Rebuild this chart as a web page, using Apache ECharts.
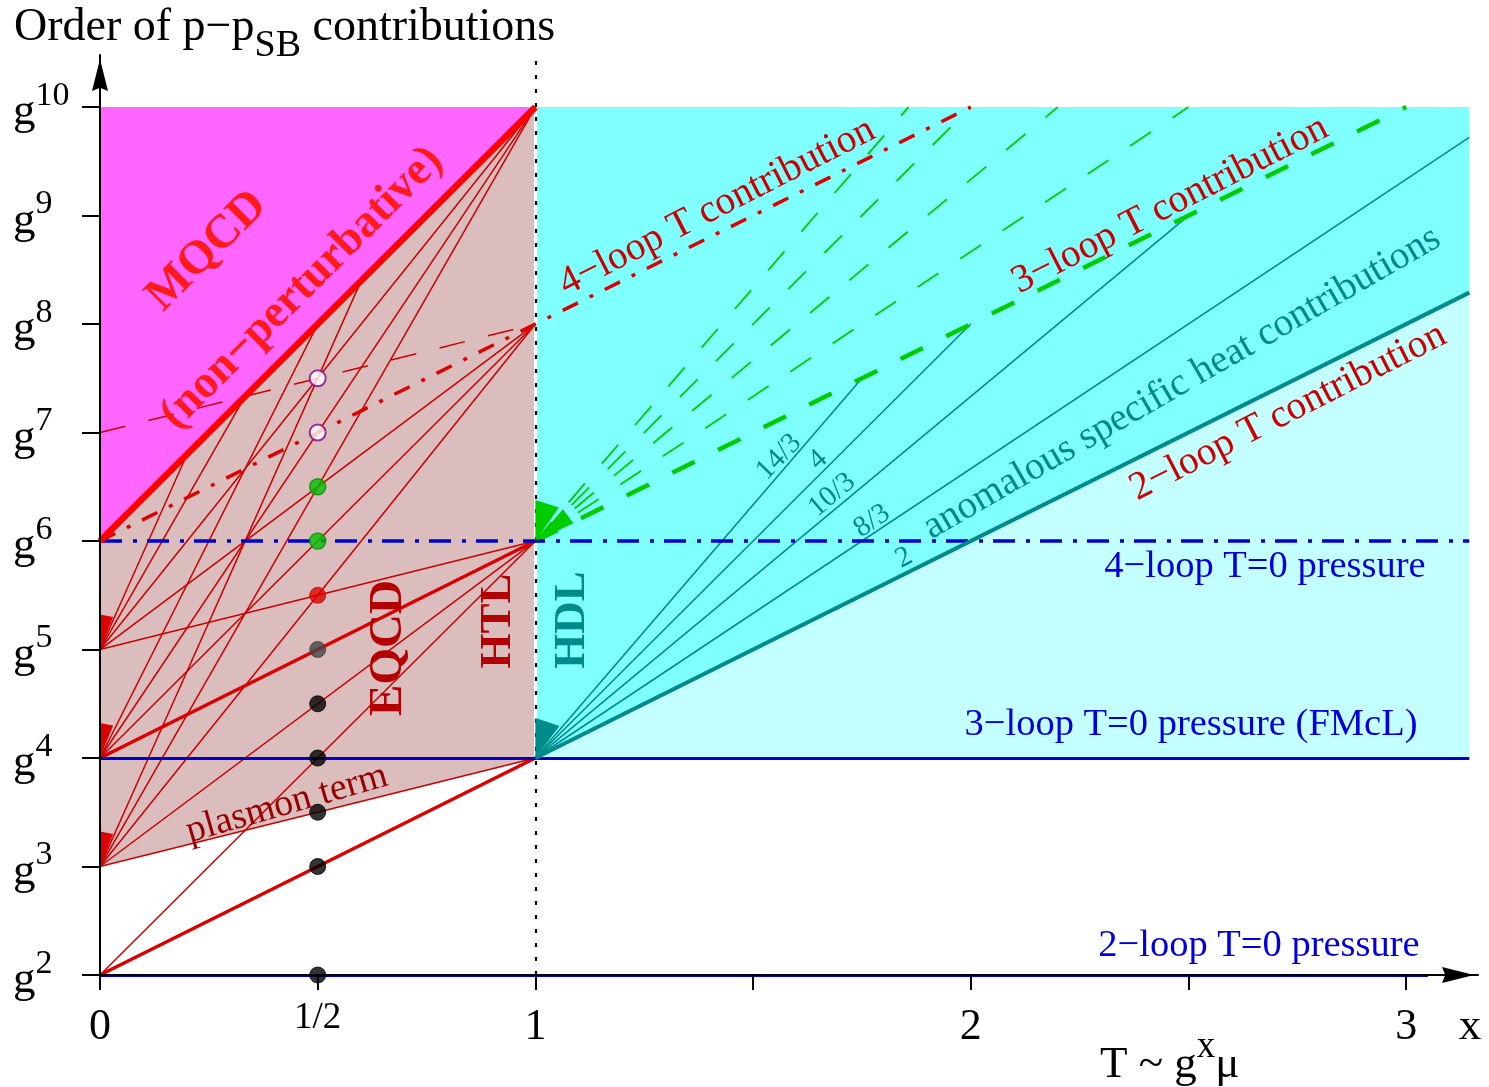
<!DOCTYPE html>
<html><head><meta charset="utf-8">
<script src="https://cdn.jsdelivr.net/npm/echarts@6/dist/echarts.min.js"></script>
<style>html,body{margin:0;padding:0;background:#fff}#c{width:1489px;height:1087px}</style>
</head><body><div id="c"></div>
<script>
// ---------------- data (x = exponent in T ~ g^x mu, y = power of g) ----------------
const xMax = 3.165, yMin = 2, yMax = 10.48;
const xTickValues = [0, 0.5, 1, 1.5, 2, 2.5, 3];
const xLabelValues = [0, 0.5, 1, 2, 3];
const xLabelText = {0: '0', 0.5: '1/2', 1: '1', 2: '2', 3: '3'};
const yTickValues = [2, 3, 4, 5, 6, 7, 8, 9, 10];

const regionMQCD = [[0, 6], [0, 10], [1, 10]];
const regionEQCD = [[0, 3], [1, 4], [1, 10], [0, 6]];
const regionHDL = [[1, 4], [3.145, 8.29], [3.145, 10], [1, 10]];
const regionHDLlow = [[1, 4], [3.145, 4], [3.145, 8.29]];

const nonPertBoundary = [[[0, 6], [1, 10]]];
const thickRed = [[[0, 2], [1, 4]], [[0, 4], [1, 6]]];
const thinRed = [
  [[0, 2], [1, 6]],
  [[0, 3], [1, 4]], [[0, 3], [1, 6]], [[0, 3], [1, 8]], [[0, 3], [1, 10]], [[0, 3], [0.6, 8.4]],
  [[0, 4], [1, 8]], [[0, 4], [1, 10]], [[0, 4], [0.5, 8]],
  [[0, 5], [1, 6]], [[0, 5], [1, 8]], [[0, 5], [1, 10]], [[0, 5], [1 / 3, 22 / 3]], [[0, 5], [0.2, 6.8]]
];
const redDashDot = [[[0, 6], [2, 10]]];
const redDashed = [[[0, 7], [1, 8]]];
const blueSolid = [[[0, 2], [3.05, 2]], [[0, 4], [3.145, 4]]];
const blueDashDot = [[[0, 6], [3.145, 6]]];
const tealThin = [[[1, 4], [1.75, 7.5]], [[1, 4], [2, 8]], [[1, 4], [2.5, 9]], [[1, 4], [3.145, 9.72]]];
const tealThick = [[[1, 4], [3.145, 8.29]]];
const greenThin = [[[1, 6], [1.857, 10]], [[1, 6], [2, 10]], [[1, 6], [2.2, 10]], [[1, 6], [2.5, 10]]];
const greenThick = [[[1, 6], [3, 10]]];
const divider = [[[1, 4], [1, 10]]];
const dottedVertical = [[[1, 2], [1, 10.45]]];

const dotY = [2, 3, 3.5, 4, 4.5, 5, 5.5, 6, 6.5, 7, 7.5];
const dotKind = ['k', 'k', 'k', 'k', 'k', 'g', 'r', 'G', 'G', 'w', 'w'];

const wedgeRedApex = [[0, 3], [0, 4], [0, 5]];
const wedgeTealApex = [[1, 4]];
const wedgeGreenApex = [[1, 6]];

// ---------------- styles ----------------
const FONT = '"Liberation Serif", "Times New Roman", serif';
const RED = '#ff0000', DRED = '#cc0000', BLUE = '#0000cc', TEAL = '#008b8b', GREEN = '#00cc00';
const dotStyles = {
  k: {color: '#000', borderColor: '#000', borderWidth: 1},
  g: {color: '#444', borderColor: '#444', borderWidth: 1},
  r: {color: '#dd0000', borderColor: '#cc0000', borderWidth: 1},
  G: {color: '#00c000', borderColor: '#009000', borderWidth: 1.5},
  w: {color: '#ffffff', borderColor: '#8a008a', borderWidth: 2}
};

function polySeries(points, color, z) {
  return {
    type: 'custom', coordinateSystem: 'cartesian2d', z, silent: true, animation: false,
    data: [[1, 5]],
    renderItem: (params, api) => ({
      type: 'polygon', shape: {points: points.map(p => api.coord(p))}, style: {fill: color}
    })
  };
}
function linesSeries(list, style, z) {
  return {
    type: 'lines', coordinateSystem: 'cartesian2d', z, silent: true, animation: false,
    polyline: false, clip: false,
    data: list.map(c => ({coords: c})),
    lineStyle: Object.assign({opacity: 1, curveness: 0}, style)
  };
}
// wedge fans: list of [startDeg, endDeg, radiusPx]
function wedgeSeries(apexes, color, fans, z) {
  return {
    type: 'custom', coordinateSystem: 'cartesian2d', z, silent: true, animation: false,
    data: apexes,
    renderItem: (params, api) => {
      const c = api.coord([api.value(0), api.value(1)]);
      return {
        type: 'group',
        children: fans.map(f => {
          const a1 = f[0] * Math.PI / 180, a2 = f[1] * Math.PI / 180, r = f[2];
          return {
            type: 'polygon',
            shape: {points: [c, [c[0] + r * Math.cos(a1), c[1] - r * Math.sin(a1)], [c[0] + r * Math.cos(a2), c[1] - r * Math.sin(a2)]]},
            style: {fill: color}
          };
        })
      };
    }
  };
}

function txt(text, x, y, deg, font, fill, extra) {
  return Object.assign({
    type: 'text', x, y, rotation: deg * Math.PI / 180, z: 100, silent: true,
    style: {text, font, fill, align: 'center', verticalAlign: 'middle'}
  }, extra || {});
}

const chart = echarts.init(document.getElementById('c'), null, {renderer: 'canvas'});

const option = {
  animation: false,
  backgroundColor: '#ffffff',
  grid: {left: 100, top: 55, width: 1378, height: 920, containLabel: false},
  xAxis: {
    type: 'value', min: 0, max: xMax, z: 20,
    axisLine: {show: true, onZero: false, lineStyle: {color: '#000', width: 2},
      symbol: ['none', 'path://M0,0 L10,40 L0,36 L-10,40 Z'], symbolSize: [16, 40], symbolOffset: [0, -20]},
    axisTick: {show: true, customValues: xTickValues, length: 15, lineStyle: {color: '#000', width: 2}},
    axisLabel: {
      customValues: xLabelValues, margin: 30,
      formatter: v => v === 0.5 ? '{h|1/2}' : '{n|' + xLabelText[v] + '}',
      rich: {
        n: {fontFamily: FONT, fontSize: 44, color: '#000', lineHeight: 44},
        h: {fontFamily: FONT, fontSize: 37, color: '#000', lineHeight: 27}
      }
    },
    splitLine: {show: false}
  },
  yAxis: {
    type: 'value', min: yMin, max: yMax, z: 20,
    axisLine: {show: true, onZero: false, lineStyle: {color: '#000', width: 2},
      symbol: ['none', 'path://M0,0 L10,40 L0,36 L-10,40 Z'], symbolSize: [16, 40], symbolOffset: [0, -20]},
    axisTick: {show: true, customValues: yTickValues, length: 18, lineStyle: {color: '#000', width: 2}},
    axisLabel: {
      customValues: yTickValues, margin: 87, align: 'left',
      formatter: v => '{g|g}{s|' + v + '}',
      rich: {
        g: {fontFamily: FONT, fontSize: 45, color: '#000', lineHeight: 45, verticalAlign: 'bottom'},
        s: {fontFamily: FONT, fontSize: 34, color: '#000', verticalAlign: 'top', padding: [0, 0, 22, 0]}
      }
    },
    splitLine: {show: false}
  },
  series: [
    polySeries(regionHDLlow, '#c4ffff', 1),
    polySeries(regionHDL, '#80ffff', 1),
    polySeries(regionEQCD, '#dbbdbd', 1),
    polySeries(regionMQCD, '#ff66ff', 1),
    linesSeries(divider, {color: '#ffffff', width: 3}, 2),
    linesSeries(thinRed, {color: DRED, width: 1.5}, 3),
    linesSeries(redDashed, {color: DRED, width: 1.5, type: [26, 24]}, 3),
    linesSeries(thickRed, {color: '#dd0000', width: 3.5}, 4),
    linesSeries(tealThin, {color: TEAL, width: 1.6}, 4),
    linesSeries(greenThin, {color: GREEN, width: 1.8, type: [25, 26]}, 4),
    linesSeries(greenThick, {color: GREEN, width: 4.5, type: [25, 26]}, 4),
    linesSeries(blueSolid, {color: BLUE, width: 3}, 5),
    linesSeries(blueDashDot, {color: BLUE, width: 3.5, type: [22, 11, 4, 10]}, 5),
    linesSeries(redDashDot, {color: '#dd0000', width: 3.5, type: [17, 13, 4, 13]}, 5),
    linesSeries(tealThick, {color: TEAL, width: 4}, 6),
    linesSeries(nonPertBoundary, {color: RED, width: 6.5}, 6),
    linesSeries(dottedVertical, {color: '#000', width: 2.2, type: [4, 10]}, 7),
    wedgeSeries(wedgeRedApex, '#dd0000', [[90, 68, 35]], 7),
    wedgeSeries(wedgeTealApex, TEAL, [[90, 53, 40]], 7),
    wedgeSeries(wedgeGreenApex, GREEN, [[90, 55, 41], [49, 25, 42]], 7),
    {
      type: 'scatter', z: 8, silent: true, animation: false, symbol: 'circle', symbolSize: 16,
      data: dotY.map((y, i) => ({value: [0.5, y], itemStyle: dotStyles[dotKind[i]]}))
    }
  ],
  graphic: [
    {type: 'text', x: 14, y: 28, z: 100, silent: true,
      style: {text: '{a|Order of p\u2212p}{b|SB}{a| contributions}', align: 'left', verticalAlign: 'middle',
        rich: {a: {fontFamily: FONT, fontSize: 46, fill: '#000', lineHeight: 48},
               b: {fontFamily: FONT, fontSize: 38, fill: '#000', verticalAlign: 'bottom', padding: [36, 0, 0, 0]}}}},
    txt('x', 1470, 1027, 0, '45px ' + FONT, '#000'),
    {type: 'text', x: 1100, y: 1058, z: 100, silent: true,
      style: {text: '{a|T ~ g}{s|x}{a|\u03bc}', align: 'left', verticalAlign: 'middle',
        rich: {a: {fontFamily: FONT, fontSize: 45, fill: '#000', lineHeight: 48, verticalAlign: 'bottom'},
               s: {fontFamily: FONT, fontSize: 37, fill: '#000', verticalAlign: 'top', padding: [0, 0, 22, 0]}}}},
    txt('MQCD', 207, 251, 45, 'bold 47px ' + FONT, '#ff1a1a'),
    txt('(non\u2212perturbative)', 302, 288, 45, 'bold 46px ' + FONT, '#ff1a1a'),
    txt('EQCD', 389, 648, 90, 'bold 47px ' + FONT, '#b30000'),
    txt('HTL', 498, 621, 90, 'bold 45px ' + FONT, '#b30000'),
    txt('HDL', 572, 620, 90, 'bold 45px ' + FONT, TEAL),
    txt('plasmon term', 287, 804, 16, '38px ' + FONT, '#990000'),
    txt('4\u2212loop T contribution', 717, 207, 27, '39.5px ' + FONT, '#cc0000'),
    txt('3\u2212loop T contribution', 1170, 205, 27, '39.5px ' + FONT, '#cc0000'),
    txt('2\u2212loop T contribution', 1288, 412, 27, '39.5px ' + FONT, '#cc0000'),
    txt('anomalous specific heat contributions', 1182, 383, 30, '39px ' + FONT, TEAL),
    txt('14/3', 779, 457, 46, '29px ' + FONT, TEAL),
    txt('4', 818, 460, 42, '29px ' + FONT, TEAL),
    txt('10/3', 832, 495, 40, '29px ' + FONT, TEAL),
    txt('8/3', 872, 521, 34, '29px ' + FONT, TEAL),
    txt('2', 904, 558, 28, '29px ' + FONT, TEAL),
    txt('4\u2212loop T=0 pressure', 1265, 567, 0, '38.5px ' + FONT, '#0000dd'),
    txt('3\u2212loop T=0 pressure (FMcL)', 1191, 725, 0, '38.5px ' + FONT, '#0000dd'),
    txt('2\u2212loop T=0 pressure', 1259, 946, 0, '38.5px ' + FONT, '#0000dd')
  ]
};
chart.setOption(option);
</script>
</body></html>
